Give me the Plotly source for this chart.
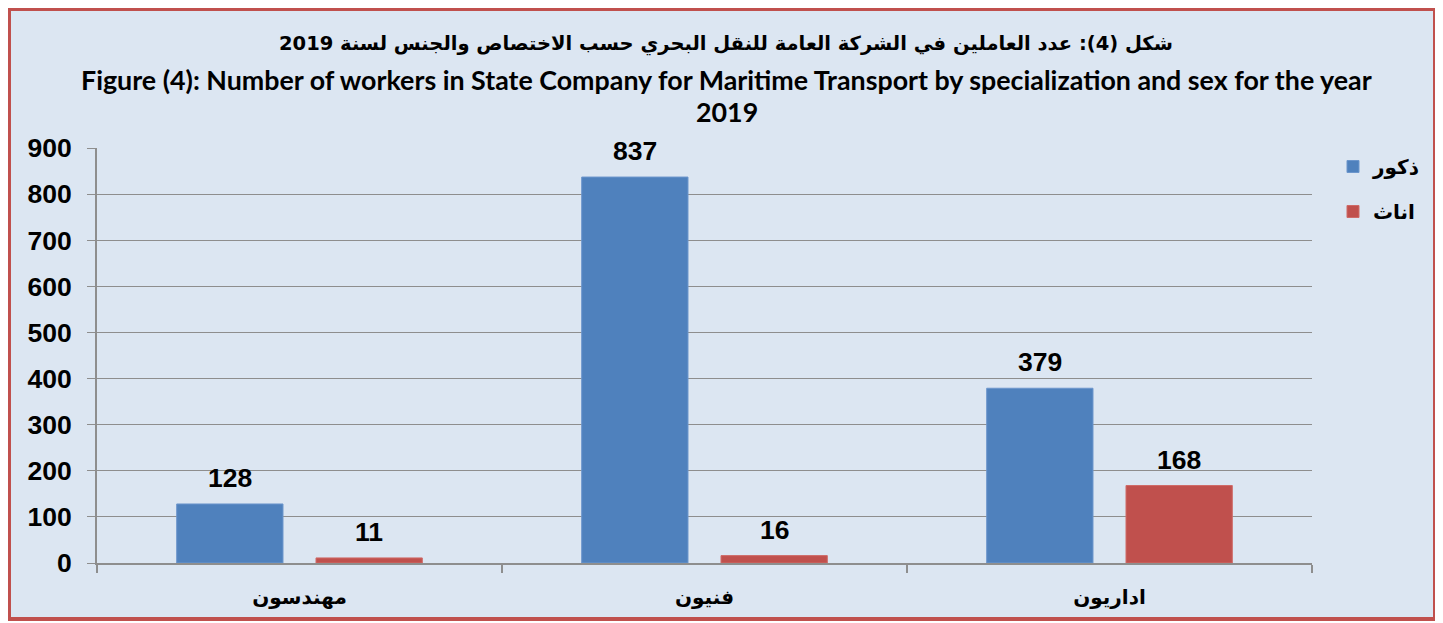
import plotly.graph_objects as go

categories = ["مهندسون", "فنيون", "اداريون"]
males = [128, 837, 379]
females = [11, 16, 168]
series_names = ["ذكور", "اناث"]
y_ticks = [0, 100, 200, 300, 400, 500, 600, 700, 800, 900]

title_ar = "شكل (4): عدد العاملين في الشركة العامة للنقل البحري حسب الاختصاص والجنس لسنة 2019"
title_en_1 = "Figure (4): Number of workers in State Company for Maritime Transport by specialization and sex for the year"
title_en_2 = "2019"

# page is offset by the browser's 8px body margin; work in figure pixels
W, H = 1435, 615
L, R, T, B = 89, 1304, 140, 555

BARGAP = 0.312
BARGROUPGAP = 0.237
slot = (1 - BARGAP) / 2
offsets = [-slot / 2, slot / 2]

num_font = dict(family="Liberation Sans, Arial", size=26.5, color="black")

fig = go.Figure()
fig.add_trace(go.Bar(
    x=categories, y=males, name="<b>" + series_names[0] + "</b>", legendgroup="m",
    marker=dict(color="#4F81BD", line=dict(color="#6C96CC", width=1)),
))
fig.add_trace(go.Bar(
    x=categories, y=females, name="<b>" + series_names[1] + "</b>", legendgroup="f",
    marker=dict(color="#C0504D", line=dict(color="#CF6A67", width=1)),
))

def px_x(p):
    return (p - L) / (R - L)

def px_y(p):
    return (B - p) / (B - T)

annotations = [
    dict(text="<b>" + title_ar + "</b>", xref="paper", yref="paper",
         x=px_x(718), y=px_y(36), xanchor="center", yanchor="middle",
         showarrow=False,
         font=dict(family="DejaVu Sans, Liberation Sans", size=19.5, color="black")),
    dict(text="<b>" + title_en_1 + "</b>", xref="paper", yref="paper",
         x=px_x(718), y=px_y(72), xanchor="center", yanchor="middle",
         showarrow=False,
         font=dict(family="Lato, Open Sans, Liberation Sans", size=26.8, color="black")),
    dict(text="<b>" + title_en_2 + "</b>", xref="paper", yref="paper",
         x=px_x(719), y=px_y(104), xanchor="center", yanchor="middle",
         showarrow=False,
         font=dict(family="Lato, Open Sans, Liberation Sans", size=26.8, color="black")),
]
for s, vals in enumerate([males, females]):
    for i, v in enumerate(vals):
        annotations.append(dict(
            text="<b>%d</b>" % v, xref="x", yref="y",
            x=i + offsets[s], y=v, xanchor="center", yanchor="bottom",
            yshift=9, showarrow=False, font=num_font,
        ))

fig.update_layout(
    width=W, height=H,
    margin=dict(l=L, r=W - R, t=T, b=H - B, autoexpand=False),
    paper_bgcolor="white",
    plot_bgcolor="#F2DCDB",
    barmode="group",
    bargap=BARGAP,
    bargroupgap=BARGROUPGAP,
    showlegend=True,
    legend=dict(
        x=px_x(1325), y=px_y(139), xanchor="left", yanchor="top",
        font=dict(family="DejaVu Sans, Liberation Sans", size=20, color="black"),
        bgcolor="rgba(0,0,0,0)", tracegroupgap=16, itemwidth=30,
    ),
    shapes=[
        dict(type="rect", xref="paper", yref="paper",
             x0=px_x(1), x1=px_x(1427), y0=px_y(611), y1=px_y(1),
             fillcolor="#DCE6F2", line=dict(color="#C0504D", width=4),
             layer="below"),
    ],
    annotations=annotations,
)

fig.update_yaxes(
    range=[0, 900], tickvals=y_ticks, ticktext=["<b>%d</b>" % v for v in y_ticks],
    showgrid=True, gridcolor="#8E8E8E", gridwidth=1,
    showline=True, linecolor="#8E8E8E", linewidth=2,
    ticks="outside", ticklen=8, tickcolor="#8E8E8E", tickwidth=1,
    tickfont=num_font,
    ticklabelstandoff=10,
    zeroline=False,
)
fig.update_xaxes(
    range=[-0.5, 2.5],
    showgrid=False,
    showline=True, linecolor="#8E8E8E", linewidth=2,
    ticks="outside", tickson="boundaries", ticklen=8, tickcolor="#8E8E8E", tickwidth=2,
    tickvals=categories, ticktext=["<b>%s</b>" % c for c in categories],
    tickfont=dict(family="DejaVu Sans, Liberation Sans", size=20, color="black"),
    ticklabelstandoff=15,
)

fig.write_html("out.html")
